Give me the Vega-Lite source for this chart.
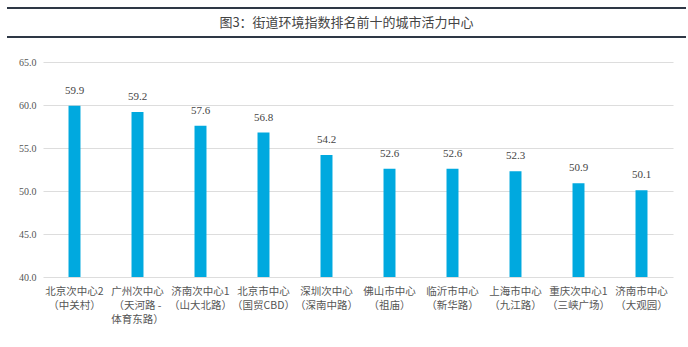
{
  "$schema": "https://vega.github.io/schema/vega-lite/v6.json",
  "padding": {"top": 7, "left": 6, "right": 3, "bottom": 0},
  "background": "white",
  "config": {"view": {"stroke": null}},
  "spacing": 19,
  "vconcat": [
    {
      "width": 679,
      "height": 29,
      "layer": [
        {
          "data": {"values": [{"p": 0}, {"p": 1}]},
          "mark": {"type": "rule", "color": "#2e3845", "strokeWidth": 2},
          "encoding": {
            "y": {"field": "p", "type": "quantitative", "scale": {"domain": [0, 1]}, "axis": null}
          }
        },
        {
          "data": {"values": [{"p": 0.5, "t": "图3：街道环境指数排名前十的城市活力中心"}]},
          "mark": {"type": "text", "font": "Noto Sans CJK SC", "fontSize": 13, "color": "#444444", "baseline": "middle", "align": "center"},
          "encoding": {
            "y": {"field": "p", "type": "quantitative", "scale": {"domain": [0, 1]}, "axis": null},
            "text": {"field": "t"}
          }
        }
      ]
    },
    {
      "width": 679,
      "height": 215,
      "data": {
        "values": [
          {"name": "北京次中心2|（中关村）", "v": 59.9},
          {"name": "广州次中心|（天河路 -|体育东路）", "v": 59.2},
          {"name": "济南次中心1|（山大北路）", "v": 57.6},
          {"name": "北京市中心|（国贸CBD）", "v": 56.8},
          {"name": "深圳次中心|（深南中路）", "v": 54.2},
          {"name": "佛山市中心|（祖庙）", "v": 52.6},
          {"name": "临沂市中心|（新华路）", "v": 52.6},
          {"name": "上海市中心|（九江路）", "v": 52.3},
          {"name": "重庆次中心1|（三峡广场）", "v": 50.9},
          {"name": "济南市中心|（大观园）", "v": 50.1}
        ]
      },
      "encoding": {
        "x": {
          "field": "name", "type": "nominal", "sort": null,
          "scale": {"range": [36, 666], "paddingInner": 0.81, "paddingOuter": 0.405},
          "axis": {
            "title": null, "domain": false, "ticks": false, "labelAngle": 0,
            "labelExpr": "split(datum.value, '|')",
            "labelFont": "Noto Sans CJK SC", "labelFontSize": 10.5, "labelColor": "#555555",
            "labelLineHeight": 14, "labelPadding": 9, "labelLimit": 200, "labelBaseline": "top"
          }
        },
        "y": {
          "field": "v", "type": "quantitative",
          "scale": {"domain": [40, 65], "zero": false, "nice": false},
          "axis": {
            "title": null, "offset": -36, "domain": false, "ticks": false,
            "values": [40, 45, 50, 55, 60, 65], "format": ".1f",
            "labelFont": "Liberation Sans Narrow", "labelFontSize": 10, "labelColor": "#555555",
            "labelPadding": 7, "gridColor": "#dddddd", "gridWidth": 1
          }
        }
      },
      "layer": [
        {"mark": {"type": "bar", "color": "#00a9df", "clip": true}},
        {
          "mark": {"type": "text", "baseline": "bottom", "dy": -10, "font": "Liberation Sans Narrow", "fontSize": 11, "color": "#444444"},
          "encoding": {"text": {"field": "v", "type": "quantitative", "format": ".1f"}}
        }
      ]
    }
  ]
}
